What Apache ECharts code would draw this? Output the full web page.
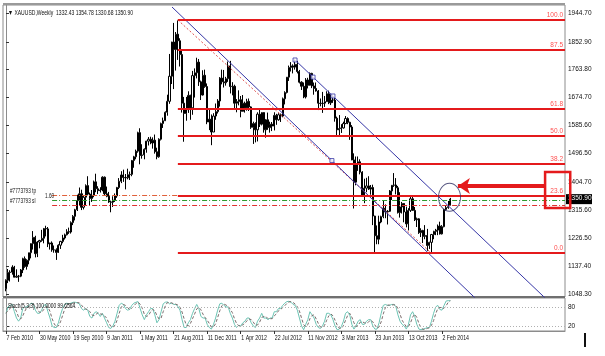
<!DOCTYPE html>
<html><head><meta charset="utf-8">
<script src="https://cdn.jsdelivr.net/npm/echarts@6/dist/echarts.min.js"></script>
<style>html,body{margin:0;padding:0;background:#fff}#c{width:605px;height:356px}</style>
</head><body><div id="c"></div>
<script>
// ---------------- DATA ----------------
// weekly bars [open, close, low, high], first bar = week of 7 Feb 2010
const candles2010 = [
[1065,1092,1057,1095],[1092,1117,1083,1128],[1117,1118,1088,1124],[1118,1134,1110,1140],
[1134,1102,1101,1138],[1102,1105,1100,1127],[1105,1105,1087,1109],[1105,1125,1102,1128],
[1125,1161,1115,1164],[1161,1136,1132,1168],[1136,1156,1126,1159],[1156,1180,1143,1180],
[1180,1209,1162,1210],[1209,1229,1190,1249],[1229,1177,1165,1234],[1177,1214,1166,1217],
[1214,1219,1194,1221],[1219,1226,1215,1253],[1226,1257,1210,1259],[1257,1256,1232,1266],
[1256,1208,1198,1262],[1208,1211,1190,1212],[1211,1189,1183,1216],[1189,1189,1180,1203],
[1189,1181,1157,1194],[1181,1204,1179,1207],[1204,1216,1192,1218],[1216,1227,1210,1237],
[1227,1237,1222,1241],[1237,1247,1235,1255],[1247,1246,1240,1260],[1246,1276,1241,1280],
[1276,1296,1268,1300],[1296,1317,1283,1320],[1317,1346,1313,1365],[1346,1368,1331,1388],
[1368,1325,1316,1381],[1325,1357,1318,1361],[1357,1394,1330,1398],[1394,1367,1363,1424],
[1367,1353,1331,1372],[1353,1363,1342,1380],[1363,1406,1357,1410],[1406,1384,1373,1432],
[1384,1378,1367,1392],[1378,1380,1372,1389],[1380,1421,1376,1424]
];
const candles2011 = [
[1421,1368,1364,1423],[1368,1360,1357,1391],[1360,1342,1339,1374],[1342,1341,1309,1346],
[1341,1348,1326,1360],[1348,1361,1342,1369],[1361,1388,1355,1390],[1388,1408,1383,1418],
[1408,1428,1402,1440],[1428,1420,1406,1445],[1420,1419,1382,1431],[1419,1429,1414,1448],
[1429,1430,1412,1439],[1430,1474,1424,1476],[1474,1486,1451,1489],[1486,1504,1478,1509],
[1504,1563,1499,1566],[1563,1490,1462,1577],[1490,1492,1480,1526],[1492,1510,1478,1513],
[1510,1536,1499,1537],[1536,1542,1522,1549],[1542,1530,1526,1550],[1530,1539,1512,1548],
[1539,1502,1496,1557],[1502,1486,1478,1515],[1486,1542,1483,1545],[1542,1592,1538,1595],
[1592,1601,1578,1611],[1601,1628,1600,1631],[1628,1663,1617,1684],[1663,1743,1655,1814],
[1743,1852,1718,1853],[1852,1828,1702,1913],[1828,1877,1761,1884],[1877,1856,1795,1921],
[1856,1812,1774,1864],[1812,1657,1627,1824],[1657,1624,1534,1677],[1624,1636,1601,1677],
[1636,1682,1626,1695],[1682,1642,1604,1684],[1642,1745,1620,1760],[1745,1754,1675,1768],
[1754,1788,1736,1802],[1788,1725,1712,1798],[1725,1683,1667,1729],[1683,1746,1681,1762],
[1746,1710,1706,1764],[1710,1597,1590,1720],[1597,1606,1571,1637],[1606,1565,1523,1621]
];
const candles2012 = [
[1565,1616,1565,1625],[1616,1630,1604,1656],[1630,1664,1624,1670],[1664,1737,1646,1740],
[1737,1725,1717,1764],[1725,1722,1707,1763],[1722,1735,1713,1741],[1735,1776,1725,1790],
[1776,1710,1688,1792],[1710,1711,1682,1724],[1711,1657,1636,1716],[1657,1662,1628,1670],
[1662,1668,1650,1698],[1668,1631,1612,1680],[1631,1657,1630,1683],[1657,1642,1627,1662],
[1642,1663,1633,1671],[1663,1645,1632,1672],[1645,1580,1575,1647],[1580,1592,1527,1598],
[1592,1572,1532,1596],[1572,1622,1535,1628],[1622,1590,1581,1641],[1590,1627,1586,1628],
[1627,1572,1563,1628],[1572,1604,1547,1606],[1604,1579,1572,1627],[1579,1590,1563,1598],
[1590,1584,1568,1597],[1584,1618,1570,1628],[1618,1604,1588,1623],[1604,1620,1601,1625],
[1620,1616,1597,1624],[1616,1671,1612,1675],[1671,1691,1653,1695],[1691,1740,1688,1740],
[1740,1771,1728,1777],[1771,1776,1758,1788],[1776,1772,1752,1781],[1772,1781,1764,1796],
[1781,1758,1752,1792],[1758,1724,1720,1763],[1724,1711,1699,1727],[1711,1677,1673,1723],
[1677,1731,1672,1737],[1731,1714,1704,1738],[1714,1752,1715,1755],[1752,1712,1705,1754],
[1712,1704,1684,1723],[1704,1696,1694,1723],[1696,1657,1635,1699],[1657,1656,1647,1672],
[1656,1657,1626,1693]
];
const candles2013 = [
[1657,1662,1645,1680],[1662,1687,1661,1695],[1687,1658,1654,1697],[1658,1667,1651,1685],
[1667,1667,1658,1684],[1667,1609,1598,1675],[1609,1572,1554,1614],[1572,1576,1555,1619],
[1576,1578,1562,1590],[1578,1592,1576,1598],[1592,1608,1590,1616],[1608,1596,1590,1612],
[1596,1581,1540,1598],[1581,1476,1475,1587],[1476,1405,1321,1497],[1405,1462,1395,1487],
[1462,1470,1441,1487],[1470,1437,1430,1478],[1437,1364,1358,1440],[1364,1386,1338,1416],
[1386,1393,1373,1419],[1393,1383,1380,1424],[1383,1388,1365,1396],[1388,1297,1268,1397],
[1297,1234,1180,1298],[1234,1223,1207,1267],[1223,1278,1207,1298],[1278,1295,1274,1298],
[1295,1322,1290,1348],[1322,1310,1290,1334],[1310,1312,1270,1316],[1312,1377,1310,1380],
[1377,1395,1348,1396],[1395,1396,1390,1434],[1396,1387,1366,1418],[1387,1308,1305,1393],
[1308,1326,1292,1373],[1326,1337,1305,1342],[1337,1310,1277,1338],[1310,1272,1261,1327],
[1272,1315,1251,1322],[1315,1352,1310,1361],[1352,1315,1313,1362],[1315,1285,1281,1326],
[1285,1288,1262,1292],[1288,1244,1240,1290],[1244,1251,1230,1258],[1251,1232,1211,1253],
[1232,1235,1223,1268],[1235,1203,1186,1256],[1203,1213,1192,1215],[1213,1238,1182,1240]
];
const candles2014 = [
[1238,1248,1223,1250],[1248,1252,1236,1256],[1252,1265,1236,1270],[1265,1240,1238,1279],
[1240,1263,1238,1268],[1263,1318,1261,1320],[1318,1324,1314,1332],[1324,1327,1320,1345],
[1332.43,1350.90,1330.68,1354.78]
];
// Stochastic(5,3,3) main and signal, one value per weekly bar
const stochMain = [
60,80,85,88,65,45,35,45,75,80,80,85,92,90,70,60,60,70,85,88,65,45,20,15,15,30,55,75,88,92,
90,92,95,95,93,90,75,70,75,70,50,45,60,65,60,50,60,45,30,15,12,20,35,60,85,92,88,75,70,72,
85,92,95,97,75,55,40,55,65,75,75,55,30,40,65,90,95,96,90,92,88,88,82,70,40,15,15,30,40,60,
75,88,75,50,45,45,25,15,10,25,45,70,90,92,85,80,80,60,45,25,15,22,20,30,35,45,45,30,20,15,
35,45,60,45,45,40,45,45,65,65,75,75,85,92,97,98,95,88,85,70,45,20,8,25,40,65,55,45,25,15,
12,20,35,60,60,55,40,20,8,10,18,35,60,65,55,25,10,20,35,40,25,25,35,40,40,20,10,10,30,60,
85,88,85,85,88,88,82,55,35,25,20,10,25,55,65,50,25,10,8,10,12,15,15,35,60,80,85,72,70,85,
99,100,100
];
const stochSignal = [
60,70,75,84,79,66,48,42,52,67,78,82,86,89,84,73,63,63,72,81,79,66,43,27,17,20,33,53,73,85,
90,91,92,94,94,93,86,78,73,72,65,55,52,57,62,58,57,52,45,30,19,16,22,38,60,79,88,85,78,72,
76,83,91,95,89,76,57,50,53,65,72,68,53,42,45,65,83,94,94,93,90,89,86,80,64,42,23,20,28,43,
58,74,79,71,57,47,38,28,17,17,27,47,68,84,89,86,82,73,62,43,28,21,19,24,28,37,42,40,32,22,
23,32,47,50,50,43,43,43,52,58,68,72,78,84,91,96,97,94,89,81,67,45,24,18,24,43,53,55,42,28,
17,16,22,38,52,58,52,38,23,13,12,21,38,53,60,48,30,18,22,32,33,30,28,33,38,33,23,13,17,33,
58,78,86,86,86,87,86,75,57,38,27,18,18,30,48,57,47,28,14,9,10,12,14,22,37,58,75,79,76,76,
84,95,99.6564
];
const xTickIdx = [0,16,32,48,64,80,96,112,128,144,160,176,192,208];
const xTickLabels = ['7 Feb 2010','30 May 2010','19 Sep 2010','9 Jan 2011','1 May 2011','21 Aug 2011',
  '11 Dec 2011','1 Apr 2012','22 Jul 2012','11 Nov 2012','3 Mar 2013','23 Jun 2013','13 Oct 2013','2 Feb 2014'];
const yTickValues = [1944.70,1852.90,1763.80,1674.70,1585.60,1496.50,1404.70,1315.60,1226.50,1137.40,1048.30];
const stochTicks = [80,20];
const fibLabels = ['0.0','23.6','38.2','50.0','61.8','87.5','100.0'];
const fibPrices = [1181.4,1362.6,1464.6,1552.7,1639.1,1828.9,1922.4];
const fibStartIdx = 82;
const fibDiagonal = [[82,1922.4],[202.3,1182.3]];
const channelA = [[79.2,1963.8],[223.8,1035.6]];
const channelB = [[137.9,1794.8],[257.2,1035.6]];
const anchorPoints = [[137.9,1794.8],[146.5,1740.2],[156,1680],[155.5,1473.9]];
const orderNames = ['#7773793 tp','1.60','#7773793 sl'];
const orderPrices = [1362.3,1346.0,1331.3];
const orderStartIdx = 22;
const lastPrice = 1350.90;
const circlePoint = [211.6,1357];
const arrowLine = [[257.2,1392.9],[215.6,1392.9]];
const boxCorners = [[257.2,1437.5],[269.2,1322.7]];
const titleText = '\u25BC XAUUSD,Weekly  1332.43 1354.78 1330.68 1350.90';
const stochText = 'Stoch(5,3,3) 100.0000 99.6564';

// ---------------- CHART ----------------
const candles = [].concat(candles2010, candles2011, candles2012, candles2013, candles2014);
const FONT = '"Liberation Sans",Arial,sans-serif';
const X_MIN = -1.43, X_MAX = 266.7;
const chart = echarts.init(document.getElementById('c'), null, {renderer:'canvas'});

const orderColors = ['#e0603a','#2e9a2e','#e03030'];
const option = {
  animation:false,
  backgroundColor:'#ffffff',
  grid:[
    {left:3, top:5, width:562, height:292, show:true, borderColor:'#8c8c8c', borderWidth:1},
    {left:3, top:298, width:562, height:33, show:true, borderColor:'#8c8c8c', borderWidth:1}
  ],
  xAxis:[
    {type:'value', gridIndex:0, min:X_MIN, max:X_MAX, show:false},
    {type:'value', gridIndex:1, min:X_MIN, max:X_MAX,
     axisLine:{show:true, lineStyle:{color:'#8c8c8c'}},
     axisTick:{show:true, length:3, lineStyle:{color:'#333'}, customValues:xTickIdx},
     axisLabel:{show:false},
     splitLine:{show:false}}
  ],
  yAxis:[
    {type:'value', gridIndex:0, position:'right', min:1038.7, max:1970.2,
     axisLine:{show:true, lineStyle:{color:'#8c8c8c'}},
     axisTick:{show:true, length:3, lineStyle:{color:'#333'}, customValues:yTickValues},
     axisLabel:{show:true, customValues:yTickValues, margin:3, fontSize:6.5, fontFamily:FONT, color:'#111',
       formatter:v=>v.toFixed(2)},
     splitLine:{show:false}},
    {type:'value', gridIndex:1, position:'right', min:4, max:108.4,
     axisLine:{show:true, lineStyle:{color:'#8c8c8c'}},
     axisTick:{show:true, length:3, lineStyle:{color:'#333'}, customValues:stochTicks},
     axisLabel:{show:true, customValues:stochTicks, margin:3, fontSize:6.5, fontFamily:FONT, color:'#111'},
     splitLine:{show:false}}
  ],
  series:[
    {type:'candlestick', xAxisIndex:0, yAxisIndex:0, barWidth:1.6,
     encode:{x:0, y:[1,2,3,4]},
     data:candles.map((c,i)=>[i,c[0],c[1],c[2],c[3]]),
     itemStyle:{color:'#ffffff', color0:'#000000', borderColor:'#000000', borderColor0:'#000000', borderWidth:1}},
    {type:'line', xAxisIndex:0, yAxisIndex:0, data:fibDiagonal, symbol:'none',
     lineStyle:{color:'#e05050', width:1, type:[2,2]}},
    {type:'line', xAxisIndex:0, yAxisIndex:0, data:channelA, symbol:'none', lineStyle:{color:'#3636a6', width:1}},
    {type:'line', xAxisIndex:0, yAxisIndex:0, data:channelB, symbol:'none', lineStyle:{color:'#3636a6', width:1}},
    {type:'line', xAxisIndex:0, yAxisIndex:0, data:[], symbol:'none', silent:true,
     markLine:{silent:true, symbol:'none', animation:false,
       data:orderPrices.map((p,i)=>[
         {coord:[orderStartIdx,p], name:orderNames[i], lineStyle:{color:orderColors[i], width:1, type:[5,2,1,2]}},
         {coord:[X_MAX,p]}]),
       label:{show:false}}},
    {type:'line', xAxisIndex:0, yAxisIndex:0, data:[], symbol:'none', silent:true, z:5,
     markLine:{silent:true, symbol:'none', animation:false,
       lineStyle:{color:'#e41a1c', width:2, type:'solid'},
       data:fibPrices.map((p,i)=>[{coord:[fibStartIdx,p], name:fibLabels[i]},{coord:[X_MAX,p]}]),
       label:{show:true, position:'insideEndTop', formatter:'{b}', color:'#ff5050', fontSize:6.5, fontFamily:FONT, distance:[2,1]}}},
    {type:'scatter', xAxisIndex:0, yAxisIndex:0, data:anchorPoints, symbol:'rect', symbolSize:4, z:6,
     itemStyle:{color:'#ffffff', borderColor:'#3636a6', borderWidth:1}},
    {type:'scatter', xAxisIndex:0, yAxisIndex:0, data:[circlePoint], symbol:'circle', symbolSize:[22,28], z:6,
     itemStyle:{color:'rgba(0,0,0,0)', borderColor:'#2a2a60', borderWidth:1}},
    {type:'lines', coordinateSystem:'cartesian2d', xAxisIndex:0, yAxisIndex:0, z:7,
     symbol:['none','arrow'], symbolSize:12,
     data:[{coords:arrowLine}], lineStyle:{color:'#e41a1c', width:4, opacity:1}},
    {type:'line', xAxisIndex:1, yAxisIndex:1, data:stochMain.map((v,i)=>[i,v]), symbol:'none', z:2,
     lineStyle:{color:'#6cc4b4', width:1},
     markLine:{silent:true, symbol:'none', label:{show:false}, animation:false,
       lineStyle:{color:'#b0b0b0', type:[1,2], width:1},
       data:stochTicks.map(v=>({yAxis:v}))}},
    {type:'line', xAxisIndex:1, yAxisIndex:1, data:stochSignal.map((v,i)=>[i,v]), symbol:'none', z:2,
     lineStyle:{color:'#7a6a6a', width:1, type:[3,2]}}
  ]
};
chart.setOption(option);

function px(pt){ return chart.convertToPixel({gridIndex:0}, pt); }
const b0 = px(boxCorners[0]), b1 = px(boxCorners[1]);
const lp = px([X_MAX, lastPrice]);
const oTp = px([0, orderPrices[0]]), oOpen = px([0, orderPrices[1]]), oSl = px([0, orderPrices[2]]);
const T = (x, y, text, size, sx) => ({type:'text', x:x, y:y, z:50, scaleX:sx,
  style:{text:text, font:size+'px '+FONT, fill:'#111', textVerticalAlign:'top'}});
const xLabelEls = xTickIdx.map((v,i)=>{
  const p = chart.convertToPixel({xAxisIndex:1}, v);
  return T(p+0.5, 335, xTickLabels[i], 7, 0.75);
});
chart.setOption({graphic:[
  T(8, 10, titleText, 7, 0.72),
  T(8, 303, stochText, 6.5, 0.75),
  {type:'rect', shape:{x:3, y:296, width:562, height:2}, style:{fill:'#707070'}},
  {type:'rect', shape:{x:3, y:3, width:562, height:2}, style:{fill:'#9a9a9a'}},
  {type:'rect', z:100, shape:{x:b0[0], y:b0[1], width:b1[0]-b0[0], height:b1[1]-b0[1]},
   style:{fill:'none', stroke:'#e41a1c', lineWidth:2.5}},
  {type:'rect', z:90, shape:{x:lp[0]+1, y:lp[1]-5, width:26, height:10}, style:{fill:'#000'}},
  {type:'text', z:91, x:lp[0]+3, y:lp[1]-4, style:{text:lastPrice.toFixed(2), font:'6.5px '+FONT, fill:'#fff', textVerticalAlign:'top'}},
  T(10, oTp[1]-8, orderNames[0], 6.5, 0.72),
  T(45, oOpen[1]-8, orderNames[1], 6.5, 0.72),
  T(10, oSl[1]-8, orderNames[2], 6.5, 0.72),
  {type:'rect', shape:{x:584, y:333, width:2, height:14}, style:{fill:'#111'}}
].concat(xLabelEls)});
</script></body></html>
